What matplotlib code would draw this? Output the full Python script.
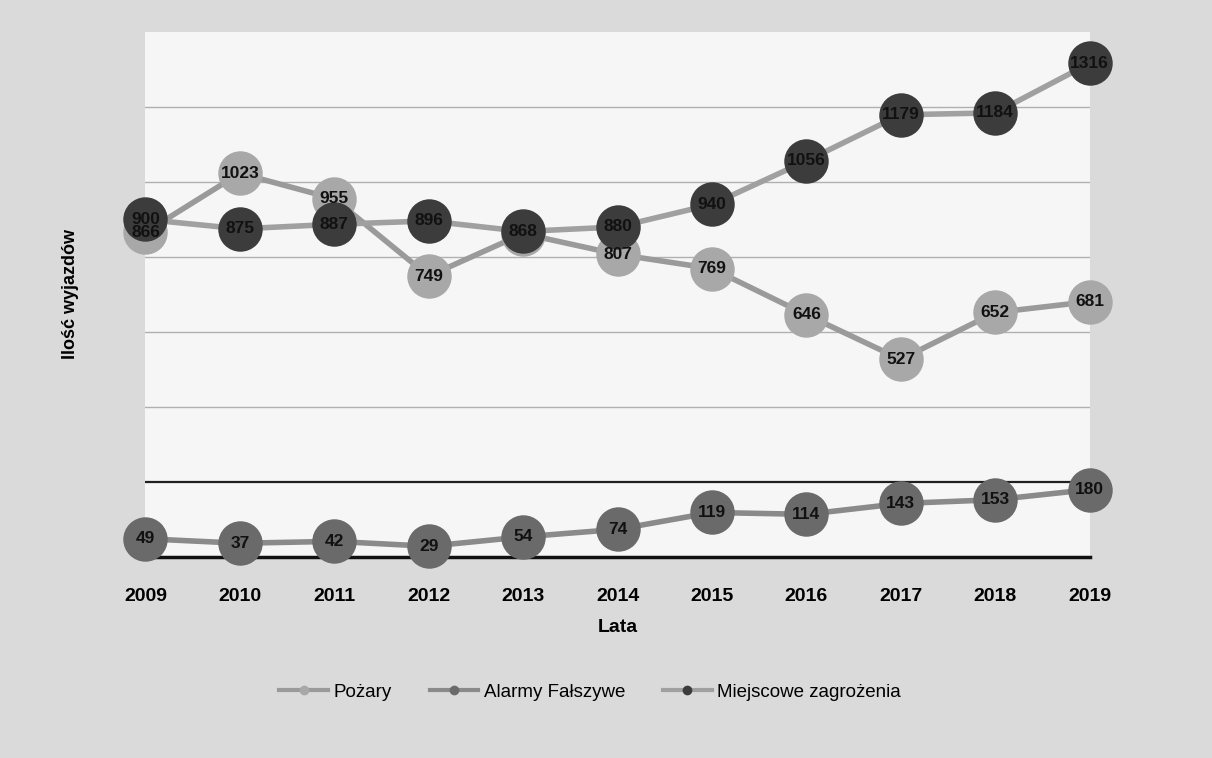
import matplotlib
matplotlib.use("Agg")
import matplotlib.pyplot as plt
from matplotlib.lines import Line2D

plt.rcParams['font.family'] = ['Liberation Sans', 'DejaVu Sans']

years = ["2009", "2010", "2011", "2012", "2013", "2014", "2015", "2016", "2017", "2018", "2019"]
pozary = [866, 1023, 955, 749, 862, 807, 769, 646, 527, 652, 681]
alarmy = [49, 37, 42, 29, 54, 74, 119, 114, 143, 153, 180]
miejscowe = [900, 875, 887, 896, 868, 880, 940, 1056, 1179, 1184, 1316]
series_names = ["Pożary", "Alarmy Fałszywe", "Miejscowe zagrożenia"]

fig = plt.figure(figsize=(12.12, 7.58), dpi=100, facecolor='#dadada')
ax = fig.add_axes([0.12, 0.265, 0.779, 0.693])
ax.set_facecolor('#f6f6f6')

x = list(range(len(years)))
styles = [
    (pozary, '#a8a8a8', '#9a9a9a'),
    (alarmy, '#6a6a6a', '#8a8a8a'),
    (miejscowe, '#3c3c3c', '#a0a0a0'),
]
for i, (vals, mcol, lcol) in enumerate(styles):
    ax.plot(x, vals, color=lcol, lw=4, zorder=3 + i * 2, solid_capstyle='round', clip_on=False)
    ax.plot(x, vals, 'o', color=mcol, markersize=32, markeredgewidth=0, zorder=4 + i * 2, clip_on=False)
    for xi, v in zip(x, vals):
        if vals is pozary and xi == 4:
            continue
        ax.text(xi, v, str(v), ha='center', va='center', fontsize=12.5,
                fontweight='bold', color='#111111', zorder=10)

ax.set_ylim(0, 1400)
ax.set_xlim(0, 10)
for g in [400, 600, 800, 1000, 1200]:
    ax.axhline(g, color='#b0b0b0', lw=1, zorder=1)
ax.axhline(200, color='#202020', lw=1.6, zorder=1)
ax.axhline(0, color='#111111', lw=2.5, zorder=2, clip_on=False)

for s in ax.spines.values():
    s.set_visible(False)
ax.set_yticks([])
ax.set_xticks(x)
ax.set_xticklabels(years, fontsize=14, fontweight='bold')
ax.tick_params(axis='x', length=0, pad=22)
ax.set_xlabel("Lata", fontsize=14, fontweight='bold', labelpad=10)
ax.set_ylabel("Ilość wyjazdów", fontsize=13, fontweight='bold', labelpad=48)

handles = [
    Line2D([0], [0], color='#9a9a9a', lw=3, marker='o', markersize=7, markerfacecolor='#a8a8a8', markeredgewidth=0),
    Line2D([0], [0], color='#8a8a8a', lw=3, marker='o', markersize=7, markerfacecolor='#6a6a6a', markeredgewidth=0),
    Line2D([0], [0], color='#a0a0a0', lw=3, marker='o', markersize=7, markerfacecolor='#3c3c3c', markeredgewidth=0),
]
fig.legend(handles, series_names, loc='center', bbox_to_anchor=(0.487, 0.087), ncol=3,
           frameon=False, fontsize=13.5, handlelength=2.6, columnspacing=2.0, handletextpad=0.3)

fig.savefig("out.png", dpi=100, facecolor=fig.get_facecolor())
